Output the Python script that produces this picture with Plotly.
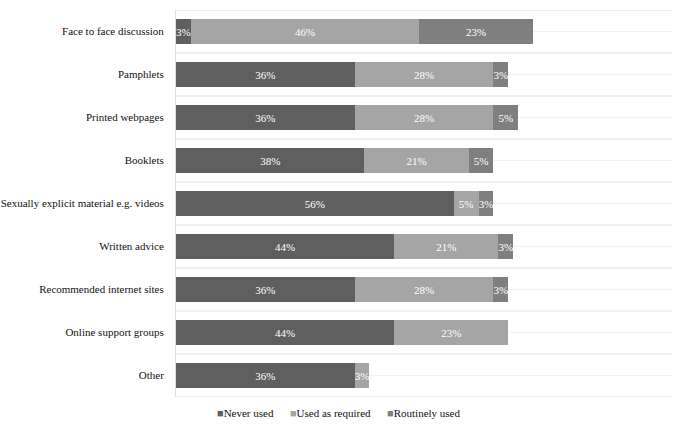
import plotly.graph_objects as go

categories = ["Face to face discussion", "Pamphlets", "Printed webpages", "Booklets",
              "Sexually explicit material e.g. videos", "Written advice",
              "Recommended internet sites", "Online support groups", "Other"]
never_used = [3, 36, 36, 38, 56, 44, 36, 44, 36]
used_as_required = [46, 28, 28, 21, 5, 21, 28, 23, 3]
routinely_used = [23, 3, 5, 5, 3, 3, 3, None, None]

series = [
    ("Never used", never_used, "#5f5f5f"),
    ("Used as required", used_as_required, "#a5a5a5"),
    ("Routinely used", routinely_used, "#7f7f7f"),
]

FONT = "Liberation Serif"

ypos = list(range(len(categories)))
fig = go.Figure()
for name, vals, col in series:
    fig.add_trace(go.Bar(
        y=ypos, x=vals, name=name, orientation="h",
        marker=dict(color=col, line=dict(width=0)),
        text=[f"{v}%" if v else "" for v in vals],
        textposition="inside", insidetextanchor="middle", textangle=0,
        constraintext="none",
        textfont=dict(color="white", size=11, family=FONT),
        hoverinfo="skip", showlegend=False,
    ))

shapes = []
for i in range(len(categories) + 1):
    shapes.append(dict(type="line", xref="paper", yref="y", x0=0, x1=1,
                       y0=i - 0.5, y1=i - 0.5, line=dict(color="#e0e0e0", width=1),
                       layer="below"))

legend_text = "&nbsp;&nbsp;&nbsp;&nbsp;&nbsp;&nbsp;".join(
    f"<span style='color:{col}'>■</span>{name}" for name, _, col in series)

fig.update_layout(
    barmode="stack", bargap=0.44,
    width=685, height=431,
    margin=dict(l=176, r=13, t=10, b=34, autoexpand=False),
    plot_bgcolor="white", paper_bgcolor="white",
    font=dict(family=FONT, size=11, color="#111"),
    uniformtext=dict(mode="show", minsize=11),
    shapes=shapes,
    annotations=[dict(text=legend_text, xref="paper", yref="paper",
                      x=0.327, y=-0.041, xanchor="center", yanchor="middle",
                      showarrow=False, font=dict(size=11, family=FONT, color="#111"))],
    xaxis=dict(range=[0, 100], showgrid=False, showticklabels=False, zeroline=False,
               showline=False, fixedrange=True),
    yaxis=dict(tickvals=ypos, ticktext=categories, range=[len(categories) - 0.5, -0.5],
               showgrid=True, gridcolor="#f2f2f2", zeroline=False, showline=True,
               linecolor="#e0e0e0", ticks="", ticklabelstandoff=9, automargin=False,
               tickfont=dict(size=11, family=FONT, color="#111")),
)
fig.write_html("out.html", config={"displayModeBar": False},
               post_script="document.body.style.margin='0';")
